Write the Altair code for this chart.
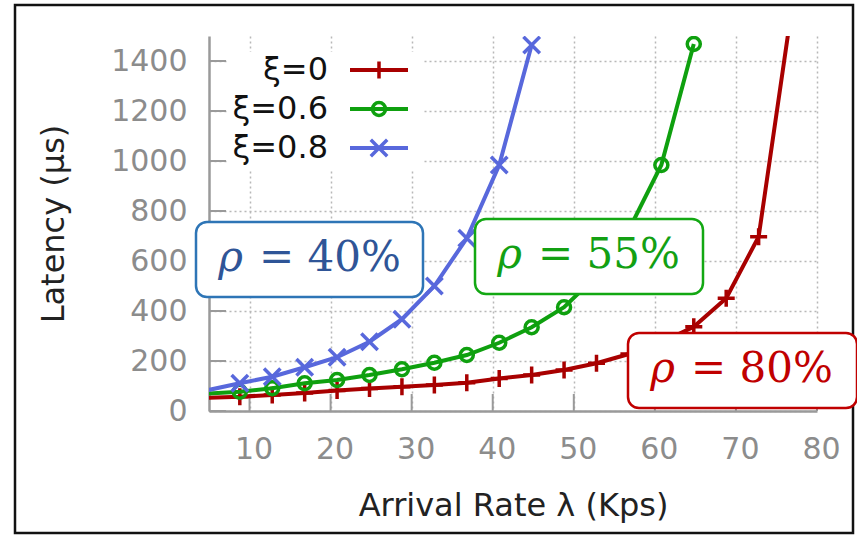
import altair as alt
import pandas as pd

# ---------------- data ----------------
series = ["ξ=0", "ξ=0.6", "ξ=0.8"]
x_vals = [4.8, 8.8, 12.8, 16.8, 20.8, 24.8, 28.8, 32.8, 36.8, 40.8,
          44.8, 48.8, 52.8, 56.8, 60.8, 64.8, 68.8, 72.8, 76.8]
lat_xi0 = [53, 57, 64, 72, 82, 90, 97, 104, 113, 130,
           144, 164, 191, 228, 275, 337, 451, 697, 1590]
lat_xi06 = [70, 77, 91, 111, 124, 144, 167, 193, 224, 273,
            335, 415, 540, 725, 984, 1468]
lat_xi08 = [83, 111, 137, 175, 215, 277, 367, 500, 691, 984, 1464]
x_ticks = [10, 20, 30, 40, 50, 60, 70, 80]
y_ticks = [0, 200, 400, 600, 800, 1000, 1200, 1400]
rho_labels = ["= 40%", "= 55%", "= 80%"]

# ---------------- style ----------------
line_colors = ["#A80000", "#0FA00F", "#5868DC"]
shape_plus = "M-1,0L1,0M0,-1L0,1"
shape_x = "M-1,-1L1,1M-1,1L1,-1"
shapes = [shape_plus, "circle", shape_x]
sizes = [290, 170, 270]
box_stroke = ["#2E75B6", "#13A813", "#C00000"]
box_text = ["#2F5597", "#13A013", "#C00000"]

W, H = 608, 375
xscale = alt.Scale(domain=[5, 80], nice=False, zero=False)
yscale = alt.Scale(domain=[0, 1500], nice=False, zero=False)

x_axis = alt.Axis(values=x_ticks, title="Arrival Rate λ (Kps)", format="d",
                  titleY=104, titleBaseline="alphabetic", labelPadding=23,
                  labelFlush=False, labelOffset=4)
y_axis = alt.Axis(values=y_ticks, title="Latency (µs)", format="d",
                  titleX=-146, titleY=187.5, titleAngle=-90,
                  titleBaseline="alphabetic", titleAlign="center", labelPadding=22)

lat_lists = [lat_xi0, lat_xi06, lat_xi08]
rows = []
for s, lats in zip(series, lat_lists):
    for xv, lv in zip(x_vals, lats):
        rows.append({"series": s, "x": xv, "latency": lv})
df = pd.DataFrame(rows)

x_enc = alt.X("x:Q", scale=xscale, axis=x_axis)
y_enc = alt.Y("latency:Q", scale=yscale, axis=y_axis)

layers = []

# data lines and markers
for i, s in enumerate(series):
    sub = df[df["series"] == s]
    line = alt.Chart(sub).mark_line(color=line_colors[i], strokeWidth=4, clip=True).encode(
        x=x_enc, y=y_enc)
    mk = sub[(sub["x"] >= 5) & (sub["latency"] <= 1500)]
    pts = alt.Chart(mk).mark_point(shape=shapes[i], size=sizes[i], filled=False,
                                   color=line_colors[i], strokeWidth=3.5, opacity=1,
                                   clip=True).encode(x=x_enc, y=y_enc)
    layers += [line, pts]

# inward tick marks
ytick_df = pd.DataFrame({"latency": y_ticks})
xtick_df = pd.DataFrame({"x": x_ticks})
layers.insert(0, alt.Chart(ytick_df).mark_rule(color="#9a9a9a", strokeWidth=2).encode(
    y=y_enc, x=alt.value(0), x2=alt.value(17)))
layers.insert(0, alt.Chart(xtick_df).mark_rule(color="#9a9a9a", strokeWidth=2).encode(
    x=x_enc, y=alt.value(H), y2=alt.value(H - 17)))

# legend (opaque key box)
one = pd.DataFrame({"a": [0]})
layers.append(alt.Chart(one).mark_rect(fill="white").encode(
    x=alt.value(18), x2=alt.value(214), y=alt.value(16), y2=alt.value(134)))
leg_y = [34, 73, 112]
for i, s in enumerate(series):
    ldf = pd.DataFrame({"series": [s]})
    layers.append(alt.Chart(ldf).mark_text(font="DejaVu Sans", fontSize=32, color="#111",
                                           align="right", baseline="middle").encode(
        x=alt.value(119), y=alt.value(leg_y[i]), text="series:N"))
    layers.append(alt.Chart(ldf).mark_rule(color=line_colors[i], strokeWidth=4).encode(
        x=alt.value(141), x2=alt.value(199), y=alt.value(leg_y[i])))
    layers.append(alt.Chart(ldf).mark_point(shape=shapes[i], size=sizes[i], filled=False,
                                            color=line_colors[i], strokeWidth=3.5, opacity=1).encode(
        x=alt.value(170), y=alt.value(leg_y[i])))

# outer frame
layers.append(alt.Chart(one).mark_rect(fillOpacity=0, stroke="#111", strokeWidth=2.5).encode(
    x=alt.value(-194), x2=alt.value(644), y=alt.value(-31), y2=alt.value(497)))

# rho annotation boxes
box_x = [(-13, 214), (266, 494), (419, 648)]
box_y = [(186, 261), (183, 258), (297, 372)]
base_y = [235, 232, 346]
for i, lab in enumerate(rho_labels):
    adf = pd.DataFrame({"label": [lab]})
    x0, x1 = box_x[i]
    y0, y1 = box_y[i]
    layers.append(alt.Chart(adf).mark_rect(fill="white", stroke=box_stroke[i], strokeWidth=2.5,
                                           cornerRadius=11).encode(
        x=alt.value(x0), x2=alt.value(x1), y=alt.value(y0), y2=alt.value(y1)))
    layers.append(alt.Chart(adf).mark_text(font="DejaVu Serif", fontSize=42, fontStyle="italic",
                                           color=box_text[i], align="center",
                                           baseline="alphabetic").encode(
        x=alt.value(x0 + 34.5), y=alt.value(base_y[i]), text=alt.value("ρ")))
    layers.append(alt.Chart(adf).mark_text(font="DejaVu Serif", fontSize=42,
                                           color=box_text[i], align="left",
                                           baseline="alphabetic").encode(
        x=alt.value(x0 + 63), y=alt.value(base_y[i]), text="label:N"))

chart = alt.layer(*layers).properties(
    width=W, height=H, autosize="none",
    padding={"left": 209, "top": 36, "right": 40, "bottom": 125},
    background="white",
).configure_view(stroke=None).configure_axis(
    labelFont="DejaVu Sans", labelFontSize=30, labelColor="#8c8c8c",
    titleFont="DejaVu Sans", titleFontSize=32, titleColor="#222", titleFontWeight="normal",
    domainColor="#9a9a9a", domainWidth=2.5, ticks=False,
    grid=True, gridColor="#b8b8b8", gridDash=[2, 3], gridWidth=1.5,
)

chart.save("out.html", embed_options={"renderer": "svg", "actions": False})
